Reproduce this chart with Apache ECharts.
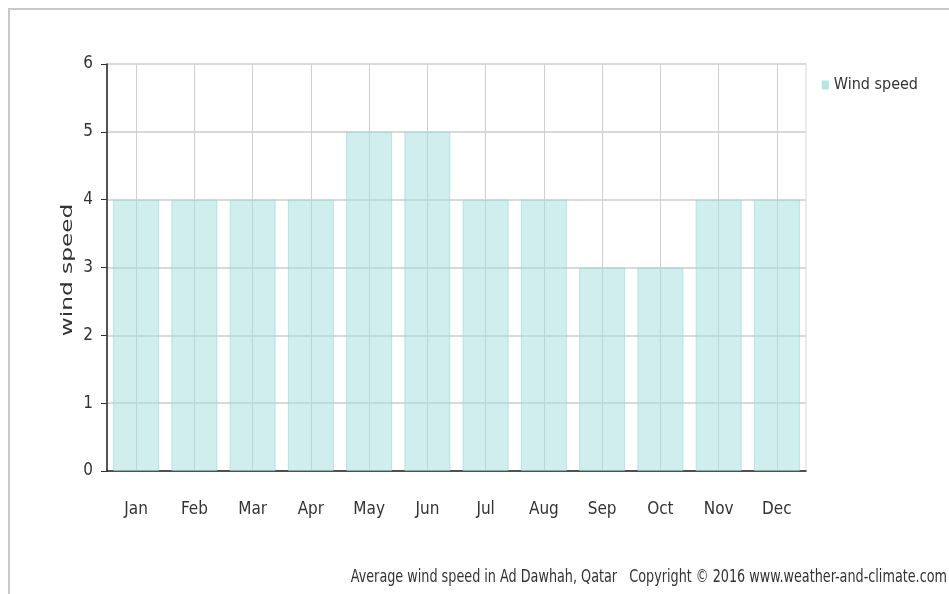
<!DOCTYPE html>
<html lang="en">
<head>
    <meta charset="UTF-8">
    <title>Average wind speed in Ad Dawhah, Qatar</title>
    <script src="https://cdn.jsdelivr.net/npm/echarts@6/dist/echarts.min.js"></script>
    <style>
        html, body { margin: 0; padding: 0; background: #fff; }
        #chart { width: 949px; height: 594px; }
    </style>
</head>
<body>
    <div id="chart"></div>
    <script type="text/javascript">
        // data
        var months = ['Jan', 'Feb', 'Mar', 'Apr', 'May', 'Jun', 'Jul', 'Aug', 'Sep', 'Oct', 'Nov', 'Dec'];
        var windSpeed = [4, 4, 4, 4, 5, 5, 4, 4, 3, 3, 4, 4];
        var yTicks = { min: 0, max: 6, interval: 1 };

        var narrow = "'DejaVu Sans Condensed', 'Liberation Sans Narrow', 'Liberation Sans', sans-serif";

        var chart = echarts.init(document.getElementById('chart'));

        var option = {
            animation: false,
            backgroundColor: '#fff',
            grid: {
                left: 107, right: 143, top: 64, bottom: 123,
                show: true, borderColor: '#d8d8d8', borderWidth: 1
            },
            legend: {
                right: 26, top: 72,
                orient: 'vertical',
                itemWidth: 7, itemHeight: 9,
                icon: 'rect',
                itemStyle: { color: '#b6e4e4', borderWidth: 0 },
                textStyle: { fontFamily: narrow, fontSize: 16, color: '#333' },
                data: ['Wind speed']
            },
            xAxis: [{
                type: 'category',
                data: months,
                axisLine: { lineStyle: { color: '#222', width: 1.5 } },
                axisTick: { alignWithLabel: true, length: 6, lineStyle: { color: '#333' } },
                axisLabel: { fontFamily: narrow, fontSize: 17, color: '#333', margin: 30 },
                splitLine: { show: false }
            }, {
                // only used for the vertical grid lines through bar centres
                type: 'value',
                min: 0, max: 24, interval: 1,
                position: 'bottom',
                axisLine: { show: false },
                axisTick: { show: false },
                axisLabel: { show: false },
                splitLine: { show: true, lineStyle: { color: ['transparent', '#cfcfcf'], width: 1 } }
            }],
            yAxis: {
                type: 'value',
                min: yTicks.min, max: yTicks.max, interval: yTicks.interval,
                axisLine: { show: true, lineStyle: { color: '#222', width: 1.5 } },
                axisTick: { show: true, length: 6, lineStyle: { color: '#333' } },
                axisLabel: { fontFamily: narrow, fontSize: 17, color: '#333', margin: 14 },
                splitLine: { lineStyle: { color: '#d9d9d9', width: 2 } }
            },
            series: [{
                name: 'Wind speed',
                type: 'bar',
                data: windSpeed,
                barCategoryGap: '21%',
                itemStyle: {
                    color: 'rgba(165, 222, 222, 0.52)',
                    borderColor: 'rgba(150, 215, 215, 0.6)',
                    borderWidth: 1
                }
            }],
            graphic: [{
                type: 'polyline',
                shape: { points: [[9, 594], [9, 9], [949, 9]] },
                style: { stroke: '#c8c8c8', lineWidth: 2, fill: null }
            }, {
                // y axis title, stretched along its length like the original
                type: 'text',
                x: 68, y: 270,
                rotation: Math.PI / 2,
                scaleX: 1.55,
                style: {
                    text: 'wind speed',
                    font: "15px 'DejaVu Sans', sans-serif",
                    fill: '#333',
                    align: 'center',
                    verticalAlign: 'middle'
                }
            }, {
                type: 'text',
                x: 947, y: 577,
                scaleX: 0.79,
                style: {
                    text: 'Average wind speed in Ad Dawhah, Qatar   Copyright \u00a9 2016 www.weather-and-climate.com',
                    font: '18px ' + narrow,
                    fill: '#333',
                    align: 'right',
                    verticalAlign: 'middle'
                }
            }]
        };

        chart.setOption(option);
    </script>
</body>
</html>
